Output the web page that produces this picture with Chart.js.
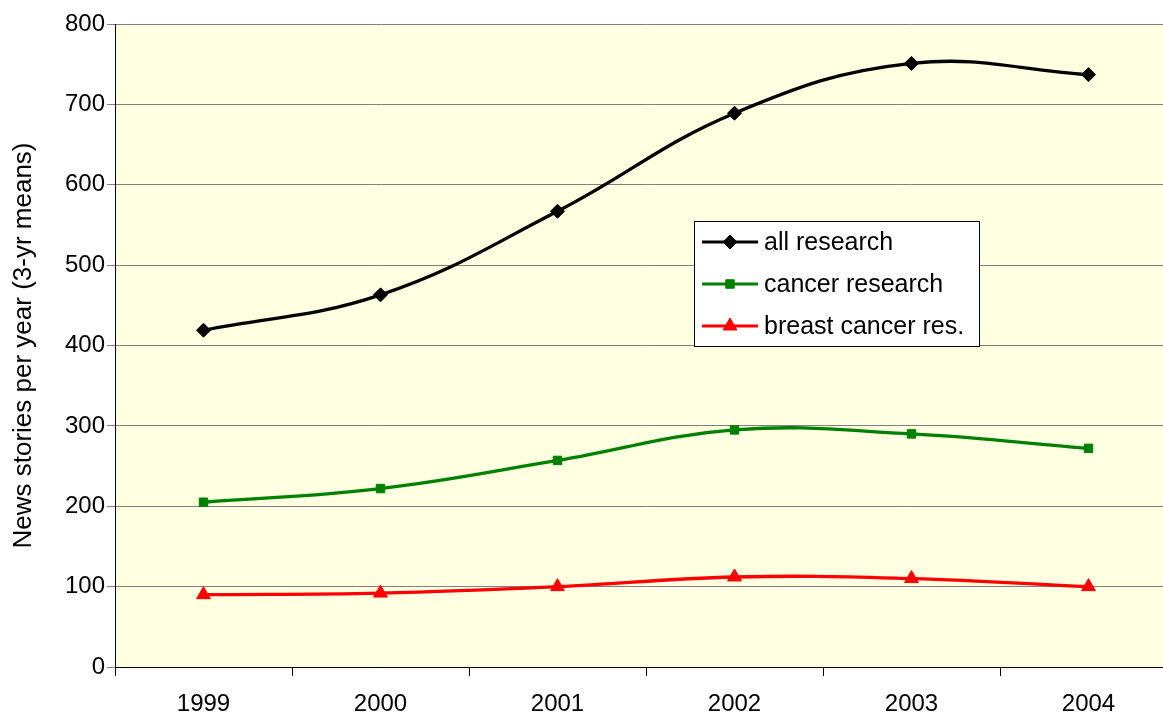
<!DOCTYPE html>
<html>
<head>
<meta charset="utf-8">
<script src="https://cdn.jsdelivr.net/npm/chart.js@4/dist/chart.umd.min.js"></script>
<style>
html,body{margin:0;padding:0;background:#fff;overflow:hidden;}
#wrap{position:relative;width:1190px;height:714px;}
</style>
</head>
<body>
<div id="wrap"><canvas id="c"></canvas></div>
<script>
const years = ['1999','2000','2001','2002','2003','2004'];
const allResearch = [419, 463, 567, 689, 751, 737];
const cancerResearch = [205, 222, 257, 295, 290, 272];
const breastCancer = [90, 92, 100, 112, 110, 100];
const seriesNames = ['all research','cancer research','breast cancer res.'];
const yTitle = 'News stories per year (3-yr means)';

const FONT = '"Liberation Sans", Arial, sans-serif';

const bgPlugin = {
  id: 'bg',
  beforeDraw(chart) {
    const {ctx, chartArea: a} = chart;
    ctx.save();
    ctx.fillStyle = '#FFFFE2';
    ctx.fillRect(a.left, a.top, a.right - a.left, a.bottom - a.top);
    ctx.restore();
  }
};

const legendPlugin = {
  id: 'boxLegend',
  afterDraw(chart) {
    const ctx = chart.ctx;
    const x = 694, y = 221, w = 285, h = 125;
    ctx.save();
    ctx.fillStyle = '#fff';
    ctx.fillRect(x, y, w, h);
    ctx.strokeStyle = '#000';
    ctx.lineWidth = 1;
    ctx.strokeRect(x + 0.5, y + 0.5, w, h);
    chart.data.datasets.forEach((ds, i) => {
      const cy = y + 21 + i * 42;
      ctx.strokeStyle = ds.borderColor;
      ctx.lineWidth = 3;
      ctx.beginPath();
      ctx.moveTo(702, cy);
      ctx.lineTo(758, cy);
      ctx.stroke();
      ctx.fillStyle = ds.backgroundColor;
      ctx.strokeStyle = ds.borderColor;
      ctx.lineWidth = 1;
      Chart.helpers.drawPoint(ctx, {
        pointStyle: ds.pointStyle, radius: ds.pointRadius, rotation: 0, borderWidth: 1
      }, 730, cy);
      ctx.fillStyle = '#000';
      ctx.font = '25px ' + FONT;
      ctx.textBaseline = 'middle';
      ctx.textAlign = 'left';
      ctx.fillText(ds.label, 764, cy + 1);
    });
    ctx.restore();
  }
};

function ds(label, data, color, style, r) {
  return {
    label, data,
    borderColor: color, backgroundColor: color,
    borderWidth: 3.3,
    pointStyle: style, pointRadius: r, pointHoverRadius: r,
    pointBorderColor: color, pointBackgroundColor: color, pointBorderWidth: 1,
    tension: 0.4, cubicInterpolationMode: 'default',
    fill: false
  };
}

new Chart(document.getElementById('c'), {
  type: 'line',
  data: {
    labels: years,
    datasets: [
      ds(seriesNames[0], allResearch, '#000000', 'rectRot', 7),
      ds(seriesNames[1], cancerResearch, '#008000', 'rect', 6),
      ds(seriesNames[2], breastCancer, '#FF0000', 'triangle', 8)
    ]
  },
  options: {
    responsive: true,
    maintainAspectRatio: false,
    animation: false,
    layout: {padding: {top: 24, right: 13, left: 0, bottom: 0}},
    plugins: {
      legend: {display: false},
      tooltip: {enabled: false}
    },
    scales: {
      x: {
        offset: true,
        grid: {offset: true, drawOnChartArea: false, drawTicks: true, tickLength: 9, color: '#000', tickWidth: 1},
        border: {display: true, color: '#000', width: 1},
        ticks: {color: '#000', font: {size: 24, family: FONT}, padding: 14, maxRotation: 0},
        afterFit(s) { s.height = 47; }
      },
      y: {
        min: 0, max: 800,
        ticks: {stepSize: 100, color: '#000', font: {size: 24, family: FONT}, padding: 2},
        grid: {color: '#808080', lineWidth: 1, tickLength: 8, drawTicks: true},
        border: {display: true, color: '#000', width: 1},
        title: {display: true, text: yTitle, color: '#000', font: {size: 26, family: FONT}, padding: {top: 8, bottom: 0}},
        afterFit(s) { s.width = 115; }
      }
    }
  },
  plugins: [bgPlugin, legendPlugin]
});
</script>
</body>
</html>
